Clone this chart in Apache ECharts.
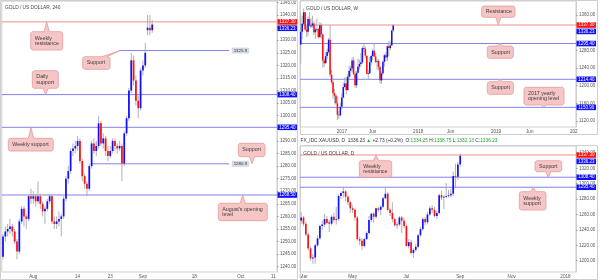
<!DOCTYPE html>
<html><head><meta charset="utf-8">
<script src="https://cdn.jsdelivr.net/npm/echarts@6/dist/echarts.min.js"></script>
<style>html,body{margin:0;padding:0;background:#fff}#c{width:600px;height:280px}</style>
</head><body><div id="c"></div>
<script>
// ---------- DATA ----------
// 4h panel candles [open, close, low, high] (one candle per half trading day from Jul 21, 2017)
const h4Candles = [
[1244,1252,1243,1253],[1252,1254,1250,1256],[1254,1255,1252,1257],[1255,1256,1253,1259],[1256,1254,1252,1257],
[1254,1250,1249,1255],[1250,1246,1243,1251],[1246,1258,1245,1259],[1258,1263,1257,1264],[1263,1260,1256,1264],
[1260,1259,1255,1261],[1259,1268,1258,1269],[1268,1267,1265,1271],[1267,1268,1265,1270],[1268,1266,1264,1269],
[1266,1268,1265,1274],[1268,1265,1263,1269],[1265,1262,1260,1266],[1262,1263,1257,1264],[1263,1266,1262,1267],
[1266,1268,1265,1269],[1268,1258,1257,1269],[1258,1257,1255,1260],[1257,1258,1255,1260],[1258,1259,1256,1262],
[1259,1260,1252,1261],[1260,1267,1259,1268],[1267,1275,1266,1276],[1275,1278,1273,1280],[1278,1286,1277,1287],
[1286,1287,1284,1289],[1287,1288,1285,1290],[1288,1290,1286,1292],[1290,1282,1281,1291],[1282,1276,1274,1283],
[1276,1273,1271,1277],[1273,1271,1268,1274],[1271,1280,1270,1281],[1280,1289,1279,1290],[1289,1286,1285,1291],
[1286,1288,1284,1290],[1288,1297,1287,1300],[1297,1289,1288,1298],[1289,1291,1287,1293],[1291,1286,1284,1292],
[1286,1284,1282,1288],[1284,1286,1283,1288],[1286,1290,1285,1291],[1290,1288,1286,1291],[1288,1287,1285,1289],
[1287,1288,1286,1290],[1288,1281,1274,1289],[1281,1293,1280,1294],[1293,1299,1292,1300],[1299,1310,1298,1311],
[1310,1322,1309,1325],[1322,1314,1312,1324],[1314,1306,1304,1316],[1306,1303,1299,1308],[1303,1318,1302,1319],
[1318,1320,1316,1322],[1320,1325,1319,1329],[1334,1335,1332,1340],[1335,1334,1332,1340],[1334,1336.23,1333,1338]
];
const h4SlotCount = 118;
const h4TickSlots = [13, 32, 46, 60, 82, 102, 116];
const h4TickText = ['Aug', '14', '23', 'Sep', '18', 'Oct', '11'];
const h4PriceTicks = [1240,1245,1250,1255,1260,1265,1270,1275,1280,1285,1290,1295,1300,1305,1310,1315,1320,1325,1330,1335,1340,1345];
const h4Resistance = [1337.30];
const h4Support = [1308.40, 1295.40, 1268.50];
const h4MinorSupport = [1325.9, 1280.9];
const h4MinorStart = [50, 38];
const h4MinorEnd = [97, 97];

// Weekly panel candles [open, close, low, high] (from Jun 20, 2016)
const weeklyCandles = [
[1293,1322,1250,1362],[1322,1340,1306,1358],[1340,1366,1337,1375],[1366,1327,1324,1367],[1327,1322,1310,1336],
[1322,1351,1313,1357],[1351,1335,1335,1367],[1335,1336,1330,1352],[1336,1341,1332,1358],[1341,1321,1314,1346],
[1321,1327,1306,1331],[1327,1328,1323,1352],[1328,1310,1306,1330],[1310,1337,1308,1344],[1337,1316,1307,1342],
[1316,1257,1241,1318],[1257,1251,1242,1262],[1251,1267,1250,1275],[1267,1276,1260,1284],[1276,1304,1272,1308],
[1304,1225,1220,1338],[1225,1208,1203,1236],[1208,1183,1171,1218],[1183,1177,1160,1193],[1177,1160,1156,1181],
[1160,1134,1122,1175],[1134,1133,1125,1142],[1133,1152,1130,1162],[1152,1173,1146,1182],[1173,1197,1172,1207],
[1197,1205,1195,1219],[1205,1190,1180,1220],[1190,1220,1189,1226],[1220,1234,1216,1245],[1234,1239,1220,1245],
[1239,1257,1231,1264],[1257,1226,1224,1264],[1226,1201,1195,1233],[1201,1229,1195,1233],[1229,1243,1227,1261],
[1243,1249,1237,1259],[1249,1253,1243,1274],[1253,1285,1249,1289],[1285,1284,1276,1296],[1284,1268,1262,1289],
[1268,1227,1226,1268],[1227,1228,1214,1236],[1228,1253,1226,1265],[1253,1267,1247,1270],[1267,1279,1258,1283],
[1279,1266,1265,1296],[1266,1254,1251,1274],[1254,1256,1236,1260],[1256,1242,1235,1260],[1242,1212,1205,1245],
[1212,1228,1204,1232],[1228,1254,1224,1257],[1254,1269,1243,1272],[1269,1264,1256,1275],[1264,1289,1255,1292],
[1289,1285,1267,1301],[1285,1291,1280,1300],[1291,1325,1290,1326],[1325,1336.23,1322,1340]
];
const weeklySlotCount = 188;
const weeklyTickSlots = [28, 49, 80, 102, 133, 156, 186];
const weeklyTickText = ['2017', 'Jun', '2018', 'Jun', '2019', 'Jun', '202'];
const weeklyPriceTicks = [1120, 1160, 1200, 1240, 1280, 1320, 1360];
const weeklyResistance = [1337.30];
const weeklySupport = [1295.40, 1214.40, 1150.90];

// Daily panel candles [open, close, low, high] (two sessions per candle, from Feb 24, 2017)
const dailyCandles = [
[1252,1256,1248,1263],[1256,1248,1245,1258],[1248,1234,1232,1250],[1234,1216,1213,1236],[1216,1203,1200,1218],
[1203,1204,1196,1209],[1204,1220,1196,1222],[1220,1229,1218,1233],[1229,1245,1227,1247],[1245,1247,1240,1252],
[1247,1254,1244,1261],[1254,1249,1247,1258],[1250,1248,1237,1253],[1248,1257,1246,1259],[1257,1253,1250,1262],
[1253,1254,1247,1270],[1254,1284,1252,1286],[1284,1288,1280,1290],[1288,1290,1282,1296],[1290,1283,1277,1292],
[1283,1276,1272,1285],[1276,1268,1262,1278],[1268,1266,1262,1272],[1266,1256,1252,1268],[1256,1228,1226,1258],
[1228,1226,1220,1231],[1226,1219,1214,1229],[1219,1228,1217,1230],[1228,1236,1227,1238],[1236,1253,1234,1258],
[1253,1261,1250,1262],[1261,1257,1249,1263],[1257,1268,1254,1269],[1268,1266,1263,1270],[1266,1270,1259,1272],
[1270,1281,1268,1283],[1281,1287,1280,1296],[1287,1266,1265,1289],[1266,1262,1258,1268],[1262,1254,1250,1276],
[1254,1246,1244,1256],[1246,1247,1241,1250],[1247,1256,1245,1258],[1256,1252,1236,1258],[1252,1245,1242,1256],
[1245,1219,1218,1247],[1219,1224,1216,1228],[1224,1210,1208,1227],[1210,1214,1204,1216],[1214,1218,1212,1222],
[1218,1233,1216,1235],[1233,1241,1231,1244],[1241,1254,1239,1256],[1254,1250,1246,1257],[1250,1260,1247,1263],
[1260,1268,1258,1271],[1268,1266,1262,1272],[1266,1258,1256,1270],[1258,1262,1254,1265],[1262,1285,1260,1287],
[1285,1282,1279,1291],[1282,1283,1267,1285],[1283,1284,1281,1301],[1284,1285,1282,1292],[1285,1287,1282,1293],
[1287,1310,1284,1316],[1310,1309,1295,1326],[1309,1325,1305,1328],[1325,1336.23,1322,1339]
];
const dailySlotCount = 118;
const dailyTickSlots = [1, 22, 45, 68, 90, 113];
const dailyTickText = ['Mar', 'May', 'Jul', 'Sep', 'Nov', '2018'];
const dailyPriceTicks = [1200, 1220, 1240, 1260, 1280, 1300, 1320, 1340];
const dailyResistance = [1337.30];
const dailySupport = [1308.40, 1295.40];

const lastPrice = 1336.23;
const quoteOpen = 1334.25, quoteHigh = 1338.75, quoteLow = 1332.13, quoteChange = 2.73, quoteChangePct = 0.2;

// ---------- CHART ----------
const FONT = '"Liberation Sans", Arial, sans-serif';
const UP = '#1010ff', DOWN = '#ff1010', WICK = '#a8a8a8';
const RES_LINE = '#f28c8c', SUP_LINE = '#8282f0';

function cats(n, slots, texts) {
  const a = new Array(n).fill('');
  slots.forEach((s, i) => { a[s] = texts[i]; });
  return a;
}

const panels = [
  {grid: {left: 1, top: 1, width: 276, height: 271}, min: 1237.9, max: 1345.55, body: 0.75,
   cats: cats(h4SlotCount, h4TickSlots, h4TickText), ticks: h4PriceTicks, candles: h4Candles,
   levels: [...h4Resistance.map(v => [v, 0, 0, 0]), ...h4Support.map(v => [v, 1, 0, 0]),
            ...h4MinorSupport.map((v, i) => [v, 2, h4MinorStart[i], h4MinorEnd[i]])]},
  {grid: {left: 300, top: 1, width: 276, height: 126}, min: 1106.4, max: 1391.7, body: 1.05,
   cats: cats(weeklySlotCount, weeklyTickSlots, weeklyTickText), ticks: weeklyPriceTicks, candles: weeklyCandles,
   levels: [...weeklyResistance.map(v => [v, 0, 0, 0]), ...weeklySupport.map(v => [v, 1, 0, 0])]},
  {grid: {left: 300, top: 146, width: 276, height: 126}, min: 1185.3, max: 1348.96, body: 0.72,
   cats: cats(dailySlotCount, dailyTickSlots, dailyTickText), ticks: dailyPriceTicks, candles: dailyCandles,
   levels: [...dailyResistance.map(v => [v, 0, 0, 0]), ...dailySupport.map(v => [v, 1, 0, 0])]}
];

function makeCandleRenderer(bodyFactor) {
  return function (params, api) {
    const x = api.value(0), o = api.value(1), c = api.value(2), l = api.value(3), h = api.value(4);
    const pO = api.coord([x, o]), pC = api.coord([x, c]), pL = api.coord([x, l]), pH = api.coord([x, h]);
    const w = Math.max(1, api.size([1, 0])[0] * bodyFactor);
    const top = Math.min(pO[1], pC[1]);
    const bh = Math.max(0.8, Math.abs(pO[1] - pC[1]));
    return {type: 'group', children: [
      {type: 'line', shape: {x1: pL[0], y1: pL[1], x2: pH[0], y2: pH[1]}, style: {stroke: WICK, lineWidth: 0.9}},
      {type: 'rect', shape: {x: pO[0] - w / 2, y: top, width: w, height: bh}, style: {fill: c >= o ? UP : DOWN}}
    ]};
  };
}

function renderLevel(params, api) {
  const cs = params.coordSys;
  const v = api.value(0), kind = api.value(1);
  const y = api.coord([0, v])[1];
  let x1 = cs.x, x2 = cs.x + cs.width;
  if (kind === 2) { x1 = api.coord([api.value(2), v])[0]; x2 = api.coord([api.value(3), v])[0]; }
  return {type: 'line', shape: {x1: x1, y1: y, x2: x2, y2: y},
          style: {stroke: kind === 0 ? RES_LINE : SUP_LINE, lineWidth: 1}};
}

const series = [];
panels.forEach((p, i) => {
  series.push({type: 'custom', xAxisIndex: i, yAxisIndex: i, silent: true, z: 2,
    data: p.levels, encode: {x: 2, y: 0}, renderItem: renderLevel});
  series.push({type: 'custom', xAxisIndex: i, yAxisIndex: i, silent: true, z: 3,
    data: p.candles.map((c, k) => [k, c[0], c[1], c[2], c[3]]), encode: {x: 0, y: [1, 2, 3, 4]},
    renderItem: makeCandleRenderer(p.body)});
});

const option = {
  animation: false,
  backgroundColor: '#ffffff',
  grid: panels.map(p => Object.assign({show: true, borderColor: '#cfcfcf', borderWidth: 1}, p.grid)),
  xAxis: panels.map((p, i) => ({
    type: 'category', gridIndex: i, data: p.cats, boundaryGap: true,
    axisLine: {show: false}, axisTick: {show: false}, splitLine: {show: false},
    axisLabel: {interval: 0, fontSize: 4.6, color: '#555', margin: 2.2, fontFamily: FONT}
  })),
  yAxis: panels.map((p, i) => ({
    type: 'value', gridIndex: i, position: 'right', min: p.min, max: p.max,
    axisLine: {show: true, lineStyle: {color: '#cfcfcf'}},
    axisTick: {show: true, length: 1.5, customValues: p.ticks, lineStyle: {color: '#999'}},
    axisLabel: {customValues: p.ticks, formatter: v => v.toFixed(2), fontSize: 4.5, color: '#555', margin: 3, fontFamily: FONT},
    splitLine: {show: false}
  })),
  series: series
};

const chart = echarts.init(document.getElementById('c'), null, {renderer: 'canvas'});
chart.setOption(option);

// ---------- ANNOTATIONS ----------
function bubblePts(x, y, w, h, r, side, bc, bh, tx, ty) {
  const pts = [];
  const arc = (cx, cy, a0, a1) => {
    for (let k = 0; k <= 3; k++) { const a = a0 + (a1 - a0) * k / 3; pts.push([cx + r * Math.cos(a), cy + r * Math.sin(a)]); }
  };
  arc(x + r, y + r, Math.PI, 1.5 * Math.PI);
  if (side === 'top') pts.push([bc - bh, y], [tx, ty], [bc + bh, y]);
  arc(x + w - r, y + r, 1.5 * Math.PI, 2 * Math.PI);
  arc(x + w - r, y + h - r, 0, 0.5 * Math.PI);
  if (side === 'bottom') pts.push([bc + bh, y + h], [tx, ty], [bc - bh, y + h]);
  arc(x + r, y + h - r, 0.5 * Math.PI, Math.PI);
  return pts;
}

const callouts = [
  {g: 0, text: 'Weekly\nresistance', x: 30.7, y: 31.7, w: 32, h: 18.3, side: 'top', base: 46.7, tipX: 46.7, level: 1337.30},
  {g: 0, text: 'Support', x: 82.7, y: 56.7, w: 27.3, h: 12.6, side: 'top', base: 104.5, tipX: 120, level: 1325.9},
  {g: 0, text: 'Daily\nsupport', x: 32.3, y: 70.7, w: 26, h: 17.6, side: 'bottom', base: 45.7, tipX: 45.7, level: 1308.40},
  {g: 0, text: 'Weekly support', x: 8.3, y: 138.3, w: 45, h: 12.7, side: 'top', base: 31, tipX: 31, level: 1295.40},
  {g: 0, text: 'Support', x: 238.3, y: 143.3, w: 26.7, h: 13.4, side: 'bottom', base: 252, tipX: 252, level: 1280.9},
  {g: 0, text: "August's opening\nlevel", x: 218.3, y: 203.3, w: 49, h: 17.4, side: 'top', base: 242.7, tipX: 242.7, level: 1268.50},
  {g: 1, text: 'Resistance', x: 481.7, y: 6, w: 33.3, h: 11.3, side: 'bottom', base: 498.3, tipX: 498.3, level: 1337.30},
  {g: 1, text: 'Support', x: 487.3, y: 46, w: 26, h: 12.3, side: 'top', base: 500, tipX: 500, level: 1295.40},
  {g: 1, text: 'Support', x: 487.3, y: 81.7, w: 26, h: 12.6, side: 'top', base: 500, tipX: 500, level: 1214.40},
  {g: 1, text: '2017 yearly\nopening level', x: 524, y: 87.3, w: 40, h: 17.7, side: 'bottom', base: 543.3, tipX: 543.3, level: 1150.90},
  {g: 2, text: 'Weekly\nresistance', x: 359.3, y: 160.7, w: 32.4, h: 16.6, side: 'top', base: 376, tipX: 376, level: 1337.30},
  {g: 2, text: 'Support', x: 535, y: 160.7, w: 26.7, h: 11, side: 'bottom', base: 548.3, tipX: 548.3, level: 1308.40},
  {g: 2, text: 'Weekly\nsupport', x: 519.3, y: 191.7, w: 26.7, h: 18.3, side: 'top', base: 533.3, tipX: 533.3, level: 1295.40}
];

const gfx = [];
// panel frames
[[0.5, 0.5, 297, 279], [300.5, 0.5, 297, 134], [300.5, 145.5, 297, 134]].forEach(r => {
  gfx.push({type: 'rect', z: 1, silent: true, shape: {x: r[0], y: r[1], width: r[2], height: r[3]},
            style: {fill: null, stroke: '#cfcfcf', lineWidth: 1}});
});

callouts.forEach(c => {
  const ty = chart.convertToPixel({yAxisIndex: c.g}, c.level);
  gfx.push({type: 'polygon', z: 50, silent: true,
    shape: {points: bubblePts(c.x, c.y, c.w, c.h, 2.2, c.side, c.base, 2.6, c.tipX, ty)},
    style: {fill: '#f6c6c6', stroke: '#e49a9a', lineWidth: 0.8}});
  gfx.push({type: 'text', z: 51, silent: true, x: c.x + 4, y: c.y + c.h / 2,
    style: {text: c.text, fontSize: 5.3, fontFamily: FONT, fill: '#3a3a3a', verticalAlign: 'middle', align: 'left', lineHeight: 5.6}});
});

// price tags on the right axes
const tagSets = [
  {g: 0, xr: 277, list: [...h4Resistance.map(v => [v, DOWN]), [lastPrice, UP], ...h4Support.map(v => [v, UP])]},
  {g: 1, xr: 576, list: [...weeklyResistance.map(v => [v, DOWN]), [lastPrice, UP], ...weeklySupport.map(v => [v, UP])]},
  {g: 2, xr: 576, list: [...dailyResistance.map(v => [v, DOWN]), [lastPrice, UP], ...dailySupport.map(v => [v, UP])]}
];
tagSets.forEach(ts => {
  const items = ts.list.map(t => ({v: t[0], color: t[1], y: chart.convertToPixel({yAxisIndex: ts.g}, t[0])}))
    .sort((a, b) => a.y - b.y);
  for (let i = 1; i < items.length; i++) if (items[i].y - items[i - 1].y < 6.4) items[i].y = items[i - 1].y + 6.4;
  items.forEach(t => {
    gfx.push({type: 'rect', z: 60, silent: true, shape: {x: ts.xr + 0.5, y: t.y - 2.8, width: 19.5, height: 5.6},
              style: {fill: t.color}});
    gfx.push({type: 'text', z: 61, silent: true, x: ts.xr + 10.3, y: t.y,
              style: {text: t.v.toFixed(2), fontSize: 4.5, fontFamily: FONT, fill: '#ffffff', align: 'center', verticalAlign: 'middle'}});
  });
});

// grey value boxes for the short 4h levels
h4MinorSupport.forEach((v, i) => {
  const p = chart.convertToPixel({gridIndex: 0}, [h4MinorEnd[i], v]);
  gfx.push({type: 'rect', z: 40, silent: true, shape: {x: p[0] + 3, y: p[1] - 2.5, width: 16.5, height: 5},
            style: {fill: '#d9dfe8', stroke: '#b8c0cc', lineWidth: 0.5}});
  gfx.push({type: 'text', z: 41, silent: true, x: p[0] + 11.2, y: p[1],
            style: {text: String(v), fontSize: 4.4, fontFamily: FONT, fill: '#333', align: 'center', verticalAlign: 'middle'}});
});

// titles
[['GOLD / US DOLLAR, 240', 5, 8], ['GOLD / US DOLLAR, W', 306, 9], ['GOLD / US DOLLAR, D', 303.3, 153.3]].forEach(t => {
  gfx.push({type: 'text', z: 30, silent: true, x: t[1], y: t[2],
            style: {text: t[0], fontSize: 4.8, fontFamily: FONT, fill: '#444', verticalAlign: 'middle'}});
});

// quote header line
const hdr = '{d|FX_IDC:XAUUSD, D  ' + lastPrice.toFixed(2) + ' }{g|\u25B2}{d| +' + quoteChange.toFixed(2) +
  ' (+' + quoteChangePct.toFixed(1) + '%)  O:}{g|' + quoteOpen.toFixed(2) + '}{d| H:}{g|' + quoteHigh.toFixed(2) +
  '}{d| L:}{g|' + quoteLow.toFixed(2) + '}{d| C:}{g|' + lastPrice.toFixed(2) + '}';
gfx.push({type: 'text', z: 30, silent: true, x: 300.5, y: 140.7,
  style: {text: hdr, verticalAlign: 'middle',
    rich: {d: {fill: '#333', color: '#333', fontSize: 4.8, fontFamily: FONT},
           g: {fill: '#27a02a', color: '#27a02a', fontSize: 4.8, fontFamily: FONT}}}});

chart.setOption({graphic: {elements: gfx}});
</script></body></html>
